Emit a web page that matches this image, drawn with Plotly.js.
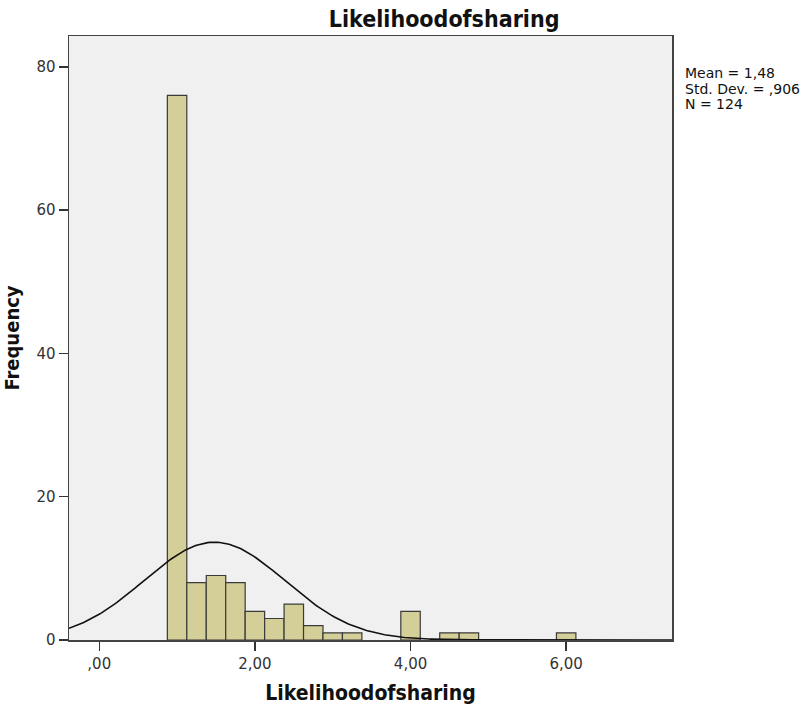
<!DOCTYPE html>
<html>
<head>
<meta charset="utf-8">
<script src="https://cdn.plot.ly/plotly-3.0.1.min.js"></script>
<style>html,body{margin:0;padding:0;background:#fff;}#chart{width:809px;height:707px;}</style>
</head>
<body>
<div id="chart"></div>
<script>
// Data
const binCenters = [1.0, 1.25, 1.5, 1.75, 2.0, 2.25, 2.5, 2.75, 3.0, 3.25, 4.0, 4.5, 4.75, 6.0];
const counts     = [76, 8, 9, 8, 4, 3, 5, 2, 1, 1, 4, 1, 1, 1];
const binWidth = 0.25;
const statMean = 1.48;
const statSD = 0.906;
const statN = 124;
const xTickVals = [0, 2, 4, 6];
const xTickText = [",00", "2,00", "4,00", "6,00"];
const yTickVals = [0, 20, 40, 60, 80];
const statLines = ["Mean = 1,48", "Std. Dev. = ,906", "N = 124"];

// Fitted normal curve (from the stated mean, SD and N)
const xRange = [-0.389, 7.36];
const curveX = [], curveY = [];
for (let i = 0; i <= 300; i++) {
  const x = xRange[0] + (xRange[1] - xRange[0]) * i / 300;
  const z = (x - statMean) / statSD;
  curveX.push(x);
  curveY.push(statN * binWidth * Math.exp(-0.5 * z * z) / (statSD * Math.sqrt(2 * Math.PI)));
}

const font = "'DejaVu Sans', Verdana, sans-serif";
const titleFont = "'DejaVu Sans Condensed', 'DejaVu Sans', sans-serif";

const traces = [
  {
    type: 'bar', x: binCenters, y: counts, width: binWidth,
    marker: {color: '#d4cf98', line: {color: '#3a3a3a', width: 1.2}},
    hoverinfo: 'x+y', showlegend: false
  },
  {
    type: 'scatter', mode: 'lines', x: curveX, y: curveY,
    line: {color: '#111', width: 1.6}, showlegend: false, hoverinfo: 'skip'
  }
];

const statAnnotations = statLines.map((t, i) => ({
  xref: 'paper', yref: 'paper', x: 1.018, y: 0.9387 - i * 0.0258,
  xanchor: 'left', yanchor: 'middle', text: t, align: 'left', showarrow: false,
  font: {size: 14, color: '#111'}
}));

const layout = {
  width: 809, height: 707,
  margin: {l: 69, r: 136.5, t: 36, b: 67, pad: 0},
  paper_bgcolor: '#ffffff', plot_bgcolor: '#f0f0f0',
  font: {family: font, color: '#222', size: 13},
  title: {
    text: '<b>Likelihoodofsharing</b>',
    font: {family: titleFont, size: 23, color: '#111'},
    x: 0.549, xref: 'container', xanchor: 'center',
    y: 0.973, yref: 'container', yanchor: 'middle'
  },
  xaxis: {
    range: xRange, tickmode: 'array', tickvals: xTickVals, ticktext: xTickText,
    showgrid: false, zeroline: false,
    showline: true, mirror: true, linecolor: '#444', linewidth: 1.5,
    ticks: 'outside', ticklen: 9, tickwidth: 1.5, tickcolor: '#333',
    tickfont: {size: 15, color: '#333'},
    title: {text: '<b>Likelihoodofsharing</b>', font: {family: titleFont, size: 21, color: '#111'}, standoff: 14}
  },
  yaxis: {
    range: [0, 84.3], tickmode: 'array', tickvals: yTickVals,
    showgrid: false, zeroline: false,
    showline: true, mirror: true, linecolor: '#444', linewidth: 1.5,
    ticks: 'outside', ticklen: 9, tickwidth: 1.5, tickcolor: '#333',
    tickfont: {size: 15, color: '#333'},
    title: {text: '<b>Frequency</b>', font: {family: titleFont, size: 20, color: '#111'}, standoff: 12}
  },
  annotations: statAnnotations
};

Plotly.newPlot('chart', traces, layout, {staticPlot: true, displayModeBar: false});
</script>
</body>
</html>
